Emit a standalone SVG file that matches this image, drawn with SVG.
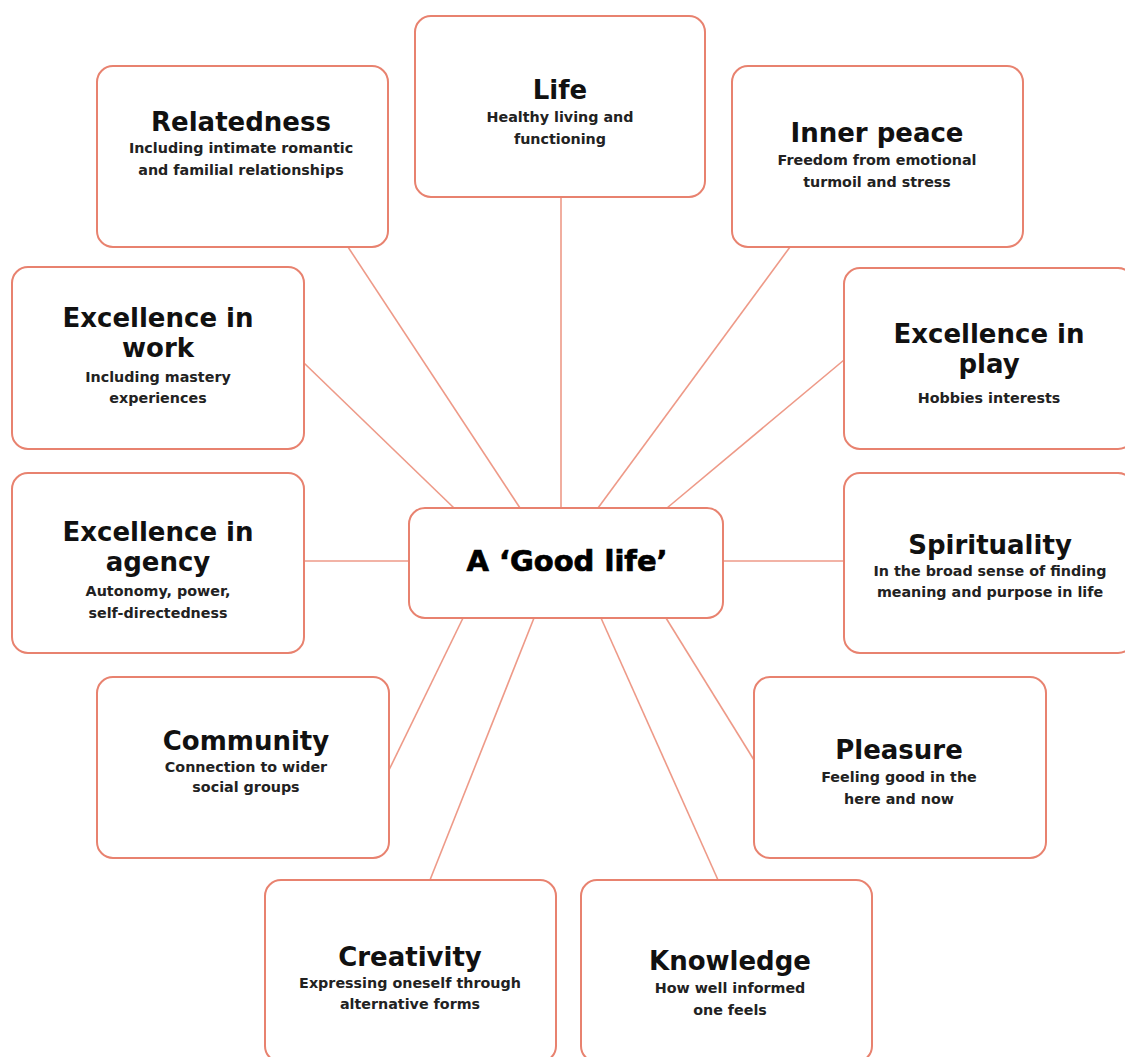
<svg xmlns="http://www.w3.org/2000/svg" width="1125" height="1057" viewBox="0 0 1125 1057">
<style>
.box{fill:#ffffff;stroke:#e8826f;stroke-width:2}
.ln{stroke:#ee9a88;stroke-width:1.6;fill:none}
.t{font-family:"DejaVu Sans",sans-serif;font-weight:bold;font-size:26px;fill:#111;text-anchor:middle}
.s{font-family:"DejaVu Sans",sans-serif;font-weight:bold;font-size:14.3px;fill:#222;text-anchor:middle}
.c{font-family:"DejaVu Sans",sans-serif;font-weight:bold;font-size:29px;fill:#000;stroke:#000;stroke-width:0.7;text-anchor:middle}
</style>
<rect width="1125" height="1057" fill="#ffffff"/>
<g id="connectors">
<line class="ln" x1="561" y1="197" x2="561" y2="508"/>
<line class="ln" x1="348" y1="247" x2="520" y2="508"/>
<line class="ln" x1="790" y1="247" x2="598" y2="508"/>
<line class="ln" x1="304" y1="363" x2="454" y2="508"/>
<line class="ln" x1="844" y1="360" x2="667" y2="508"/>
<line class="ln" x1="304" y1="561" x2="409" y2="561"/>
<line class="ln" x1="723" y1="561" x2="844" y2="561"/>
<line class="ln" x1="389" y1="770" x2="463" y2="618"/>
<line class="ln" x1="754" y1="760" x2="666" y2="618"/>
<line class="ln" x1="430" y1="880" x2="534" y2="618"/>
<line class="ln" x1="718" y1="880" x2="601" y2="618"/>
</g>
<g id="life">
<rect class="box" x="415" y="16" width="290" height="181" rx="16"/>
<text class="t" x="560" y="99">Life</text>
<text class="s" x="560" y="122">Healthy living and</text>
<text class="s" x="560" y="144">functioning</text>
</g>
<g id="relatedness">
<rect class="box" x="97" y="66" width="291" height="181" rx="16"/>
<text class="t" x="241" y="131">Relatedness</text>
<text class="s" x="241" y="153">Including intimate romantic</text>
<text class="s" x="241" y="175">and familial relationships</text>
</g>
<g id="inner-peace">
<rect class="box" x="732" y="66" width="291" height="181" rx="16"/>
<text class="t" x="877" y="142">Inner peace</text>
<text class="s" x="877" y="165">Freedom from emotional</text>
<text class="s" x="877" y="187">turmoil and stress</text>
</g>
<g id="excellence-work">
<rect class="box" x="12" y="267" width="292" height="182" rx="16"/>
<text class="t" x="158" y="327">Excellence in</text>
<text class="t" x="158" y="357">work</text>
<text class="s" x="158" y="382">Including mastery</text>
<text class="s" x="158" y="403">experiences</text>
</g>
<g id="excellence-play">
<rect class="box" x="844" y="268" width="290" height="181" rx="16"/>
<text class="t" x="989" y="343">Excellence in</text>
<text class="t" x="989" y="373">play</text>
<text class="s" x="989" y="403">Hobbies interests</text>
</g>
<g id="excellence-agency">
<rect class="box" x="12" y="473" width="292" height="180" rx="16"/>
<text class="t" x="158" y="541">Excellence in</text>
<text class="t" x="158" y="571">agency</text>
<text class="s" x="158" y="596">Autonomy, power,</text>
<text class="s" x="158" y="618">self-directedness</text>
</g>
<g id="spirituality">
<rect class="box" x="844" y="473" width="290" height="180" rx="16"/>
<text class="t" x="990" y="554">Spirituality</text>
<text class="s" x="990" y="576">In the broad sense of finding</text>
<text class="s" x="990" y="597">meaning and purpose in life</text>
</g>
<g id="good-life">
<rect class="box" x="409" y="508" width="314" height="110" rx="16"/>
<text class="c" x="567" y="571">A ‘Good life’</text>
</g>
<g id="community">
<rect class="box" x="97" y="677" width="292" height="181" rx="16"/>
<text class="t" x="246" y="750">Community</text>
<text class="s" x="246" y="772">Connection to wider</text>
<text class="s" x="246" y="792">social groups</text>
</g>
<g id="pleasure">
<rect class="box" x="754" y="677" width="292" height="181" rx="16"/>
<text class="t" x="899" y="759">Pleasure</text>
<text class="s" x="899" y="782">Feeling good in the</text>
<text class="s" x="899" y="804">here and now</text>
</g>
<g id="creativity">
<rect class="box" x="265" y="880" width="291" height="182" rx="16"/>
<text class="t" x="410" y="966">Creativity</text>
<text class="s" x="410" y="988">Expressing oneself through</text>
<text class="s" x="410" y="1009">alternative forms</text>
</g>
<g id="knowledge">
<rect class="box" x="581" y="880" width="291" height="182" rx="16"/>
<text class="t" x="730" y="970">Knowledge</text>
<text class="s" x="730" y="993">How well informed</text>
<text class="s" x="730" y="1015">one feels</text>
</g>
</svg>
